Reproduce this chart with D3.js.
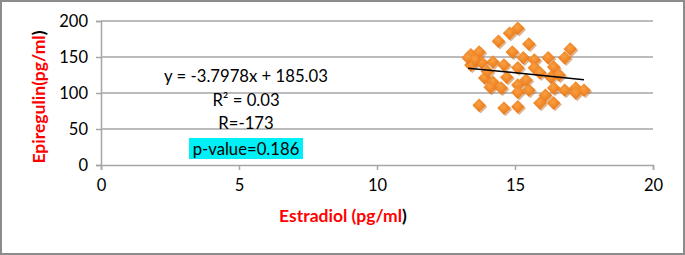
<!DOCTYPE html>
<html>
<head>
<meta charset="utf-8">
<script src="https://cdn.jsdelivr.net/npm/d3@7"></script>
<style>
  body { margin: 0; background: #fff; }
  svg text { font-family: Lato, "Open Sans", sans-serif; }
</style>
</head>
<body>
<div id="chart"></div>
<script>

const estradiol = [15.1, 14.8, 14.4, 15.5, 13.4, 13.7, 14.9, 17.0, 16.8, 15.3, 15.7, 16.2, 14.2, 13.8, 14.6,
  15.1, 15.7, 16.4, 13.4, 13.9, 14.2, 14.7, 15.4, 16.3, 16.6, 14.5, 15.1, 15.1, 16.4, 16.8, 17.2, 17.5,
  17.2, 13.7, 14.6, 15.1, 15.9, 16.4, 14.1, 15.5, 13.3, 13.55, 16.1, 14.0, 15.9]
const epiregulin = [190, 183, 172, 168, 153, 157, 157, 161, 149, 149, 146, 149, 143, 142, 139,
  135, 135, 136, 139, 121, 115, 122, 118, 122, 125, 107, 111, 101, 107, 104, 107, 104,
  100, 83, 79, 81, 86, 86, 108, 104, 149, 146, 97, 130, 128]

const xTicks = [0, 5, 10, 15, 20]
const yTicks = [0, 50, 100, 150, 200]
const slope = -3.7978
const intercept = 185.03
const statLines = ["y = -3.7978x + 185.03", "R² = 0.03", "R=-173"]
const pLabel = "p-value=0.186"

const width = 685
const height = 255

const svg = d3.select("#chart")
  .append("svg")
  .attr("width", width)
  .attr("height", height)

svg.append("rect")
  .attr("x", 1)
  .attr("y", 1)
  .attr("width", width - 2)
  .attr("height", height - 2)
  .attr("fill", "#fff")
  .attr("stroke", "#8c8c8c")
  .attr("stroke-width", 2)

const x = d3.scaleLinear().domain([0, 20]).range([101, 653])
const y = d3.scaleLinear().domain([0, 200]).range([165, 21])

const defs = svg.append("defs")
const grad = defs.append("radialGradient")
  .attr("id", "dia")
  .attr("cx", "45%")
  .attr("cy", "40%")
  .attr("r", "65%")
grad.append("stop").attr("offset", "0%").attr("stop-color", "#f9a042")
grad.append("stop").attr("offset", "100%").attr("stop-color", "#e87212")

// gridlines
svg.append("g")
  .selectAll("line")
  .data(yTicks.filter((d) => d > 0))
  .join("line")
  .attr("x1", x(0))
  .attr("x2", x(20))
  .attr("y1", (d) => y(d))
  .attr("y2", (d) => y(d))
  .attr("stroke", "#a6a6a6")
  .attr("stroke-width", 1.5)

const yAxis = svg.append("g")
  .attr("transform", `translate(${x(0)},0)`)
  .call(d3.axisLeft(y).tickValues(yTicks).tickSize(5).tickPadding(8))
yAxis.select(".domain").attr("stroke", "#a6a6a6").attr("stroke-width", 1.5)
yAxis.selectAll(".tick line").attr("stroke", "#a6a6a6").attr("stroke-width", 1.5)
yAxis.selectAll(".tick text")
  .attr("font-size", 16.5)
  .attr("fill", "#000")
  .style("font-family", "Lato, sans-serif")

const xAxis = svg.append("g")
  .attr("transform", `translate(0,${y(0)})`)
  .call(d3.axisBottom(x).tickValues(xTicks).tickSize(5).tickPadding(9))
xAxis.select(".domain").attr("stroke", "#a6a6a6").attr("stroke-width", 1.5)
xAxis.selectAll(".tick line").attr("stroke", "#a6a6a6").attr("stroke-width", 1.5)
xAxis.selectAll(".tick text")
  .attr("font-size", 16.5)
  .attr("fill", "#000")
  .style("font-family", "Lato, sans-serif")

// points
const diamond = d3.symbol().type(d3.symbolDiamond2).size(115)
const pts = svg.append("g")
pts.selectAll("path.shadow")
  .data(estradiol)
  .join("path")
  .attr("class", "shadow")
  .attr("d", diamond)
  .attr("transform", (d, i) => `translate(${x(d) + 1.5},${y(epiregulin[i]) + 1.5})`)
  .attr("fill", "#b85a10")
  .attr("opacity", 0.45)
pts.selectAll("path.dot")
  .data(estradiol)
  .join("path")
  .attr("class", "dot")
  .attr("d", diamond)
  .attr("transform", (d, i) => `translate(${x(d)},${y(epiregulin[i])})`)
  .attr("fill", "url(#dia)")

// trendline
const xMin = d3.min(estradiol)
const xMax = d3.max(estradiol)
svg.append("line")
  .attr("x1", x(xMin))
  .attr("x2", x(xMax))
  .attr("y1", y(slope * xMin + intercept))
  .attr("y2", y(slope * xMax + intercept))
  .attr("stroke", "#000")
  .attr("stroke-width", 1.5)

// stats text
const statY = [76, 100, 123]
svg.append("g")
  .selectAll("text")
  .data(statLines)
  .join("text")
  .attr("x", 246)
  .attr("y", (d, i) => statY[i])
  .attr("text-anchor", "middle")
  .attr("dominant-baseline", "central")
  .attr("font-size", 16.7)
  .text((d) => d)

svg.append("rect")
  .attr("x", 189)
  .attr("y", 138)
  .attr("width", 114)
  .attr("height", 21)
  .attr("fill", "#00f0f8")
svg.append("text")
  .attr("x", 246)
  .attr("y", 148.5)
  .attr("text-anchor", "middle")
  .attr("dominant-baseline", "central")
  .attr("font-size", 16.7)
  .text(pLabel)

// axis titles
const xt = svg.append("text")
  .attr("x", 343)
  .attr("y", 215)
  .attr("text-anchor", "middle")
  .attr("dominant-baseline", "central")
  .attr("font-size", 17.5)
  .attr("font-weight", "bold")
xt.append("tspan").attr("fill", "#ff0000").text("Estradiol (pg/ml")
xt.append("tspan").attr("fill", "#000").text(")")

const yt = svg.append("text")
  .attr("transform", "translate(38,97) rotate(-90)")
  .attr("text-anchor", "middle")
  .attr("dominant-baseline", "central")
  .attr("font-size", 17.5)
  .attr("font-weight", "bold")
yt.append("tspan").attr("fill", "#ff0000").text("Epiregulin(pg/ml")
yt.append("tspan").attr("fill", "#000").text(")")

</script>
</body>
</html>
